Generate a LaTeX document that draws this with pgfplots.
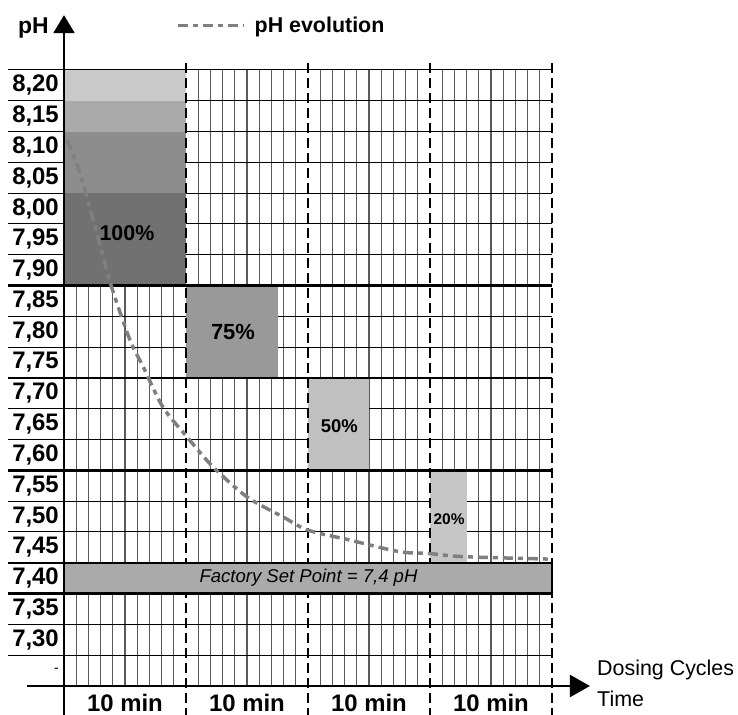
\documentclass[border=0pt]{standalone}
\usepackage{fontspec}
\setmainfont{Liberation Sans}
\usepackage{pgfplots}
\pgfplotsset{compat=1.18}
\usetikzlibrary{arrows.meta}

\definecolor{curvegray}{HTML}{7F7F7F}
\definecolor{gridgray}{HTML}{5A5A5A}
\definecolor{rowA}{HTML}{C9C9C9}
\definecolor{rowB}{HTML}{AAAAAA}
\definecolor{rowC}{HTML}{8D8D8D}
\definecolor{rowD}{HTML}{717171}
\definecolor{dose75}{HTML}{999999}
\definecolor{dose50}{HTML}{C0C0C0}
\definecolor{dose20}{HTML}{C6C6C6}
\definecolor{setpt}{HTML}{AAAAAA}

\newcommand{\fs}[1]{\fontsize{#1}{#1}\selectfont}

\begin{document}
\begin{tikzpicture}
\useasboundingbox (0,0) rectangle (738bp,715bp);
\begin{axis}[
    at={(64bp,29bp)}, anchor=south west,
    width=488bp, height=616bp, scale only axis,
    xmin=0, xmax=40, ymin=7.225, ymax=8.225,
    clip=false,
    axis line style={draw=none},
    tick style={draw=none},
    major tick length=0pt,
    xtick={5,15,25,35},
    xticklabels={10 min,10 min,10 min,10 min},
    xticklabel style={font=\fs{24}\bfseries, anchor=north, inner sep=0pt, yshift=-8bp},
    ytick={7.25,7.30,7.35,7.40,7.45,7.50,7.55,7.60,7.65,7.70,7.75,7.80,7.85,7.90,7.95,8.00,8.05,8.10,8.15,8.20,8.25},
    yticklabels={{\fs{14}\mdseries -},{7,30},{7,35},{7,40},{7,45},{7,50},{7,55},{7,60},{7,65},{7,70},{7,75},{7,80},{7,85},{7,90},{7,95},{8,00},{8,05},{8,10},{8,15},{8,20},{\fs{14}\mdseries +}},
    yticklabel style={font=\fs{24}\bfseries, anchor=east, inner sep=0pt, xshift=-5bp},
    legend style={at={(0.2295,1.072)}, anchor=west, draw=none, fill=none,
      inner sep=0pt, font=\fs{21.5}\bfseries},
    legend image code/.code={\draw[#1] (0bp,0bp) -- (66bp,0bp); \path (73bp,0bp);},
  ]

  % minute grid
  \pgfplotsinvokeforeach{1,2,3,4,5,6,7,8,9,11,12,13,14,15,16,17,18,19,21,22,23,24,25,26,27,28,29,31,32,33,34,35,36,37,38,39}{
    \draw[gridgray, line width=1.2bp] (axis cs:#1,7.225) -- (axis cs:#1,8.225);
  }
  % thin row lines
  \pgfplotsinvokeforeach{8.225,8.175,8.125,8.075,8.025,7.975,7.925,7.825,7.775,7.675,7.625,7.525,7.475,7.325,7.275}{
    \draw[black, line width=1bp] (axis cs:-4.59,#1) -- (axis cs:40,#1);
  }

  % dosing blocks
  \addplot[fill=rowA, draw=none, forget plot] coordinates {(0,8.175) (10,8.175) (10,8.225) (0,8.225)};
  \addplot[fill=rowB, draw=none, forget plot] coordinates {(0,8.125) (10,8.125) (10,8.175) (0,8.175)};
  \addplot[fill=rowC, draw=none, forget plot] coordinates {(0,8.025) (10,8.025) (10,8.125) (0,8.125)};
  \addplot[fill=rowD, draw=none, forget plot] coordinates {(0,7.875) (10,7.875) (10,8.025) (0,8.025)};
  \addplot[fill=dose75, draw=none, forget plot] coordinates {(10,7.725) (17.5,7.725) (17.5,7.875) (10,7.875)};
  \addplot[fill=dose50, draw=none, forget plot] coordinates {(20,7.575) (25,7.575) (25,7.725) (20,7.725)};
  \addplot[fill=dose20, draw=none, forget plot] coordinates {(30,7.425) (33,7.425) (33,7.575) (30,7.575)};

  % thick row lines
  \pgfplotsinvokeforeach{7.875,7.725,7.575}{
    \draw[black, line width=2.5bp] (axis cs:-4.59,#1) -- (axis cs:40,#1);
  }

  % cycle boundaries
  \pgfplotsinvokeforeach{10,20,30,40}{
    \draw[black, line width=2bp, dash pattern=on 10bp off 5bp] (axis cs:#1,8.236) -- (axis cs:#1,7.178);
  }

  % factory set point band
  \addplot[fill=setpt, draw=none, forget plot] coordinates {(0,7.375) (40,7.375) (40,7.425) (0,7.425)};
  \pgfplotsinvokeforeach{7.425,7.375}{
    \draw[black, line width=2.5bp] (axis cs:-4.59,#1) -- (axis cs:40,#1);
  }
  \draw[black, line width=2bp] (axis cs:40,7.375) -- (axis cs:40,7.425);

  % axes
  \draw[black, line width=2.2bp, -{Triangle[width=21bp,length=18bp]}] (axis cs:0,7.178) -- (axis cs:0,8.314);
  \draw[black, line width=2.2bp, -{Triangle[width=22bp,length=20bp]}] (axis cs:-3.03,7.225) -- (axis cs:43.11,7.225);

  % pH evolution
  \addplot[curvegray, line width=3.5bp, dash pattern=on 10bp off 5bp on 5bp off 5bp, smooth] coordinates {
    (0.25,8.111) (1.3,8.058) (2.7,7.960) (3.8,7.879) (5.4,7.787) (6.5,7.743)
    (8.1,7.678) (10.1,7.629) (12.2,7.581) (15.0,7.532) (18.0,7.499) (20.0,7.478)
    (23.4,7.462) (27.5,7.443) (30.0,7.440) (32.7,7.435) (39.8,7.431)
  };
  \addlegendentry{pH evolution}

  % labels
  \node[font=\fs{21.5}\bfseries] at (axis cs:5.16,7.960) {100\%};
  \node[font=\fs{22}\bfseries] at (axis cs:13.85,7.800) {75\%};
  \node[font=\fs{18.5}\bfseries] at (axis cs:22.57,7.647) {50\%};
  \node[font=\fs{15.5}\bfseries] at (axis cs:31.56,7.496) {20\%};
  \node[font=\fs{18.6}\itshape] at (axis cs:20.04,7.400) {Factory Set Point = 7,4 pH};
  \node[font=\fs{23}\bfseries, anchor=base west, inner sep=0pt] at (axis cs:-3.77,8.285) {pH};
  \node[font=\fs{21.5}, anchor=base west, inner sep=0pt] at (axis cs:43.69,7.242) {Dosing Cycles};
  \node[font=\fs{21.5}, anchor=base west, inner sep=0pt] at (axis cs:43.69,7.192) {Time};
\end{axis}
\end{tikzpicture}
\end{document}
